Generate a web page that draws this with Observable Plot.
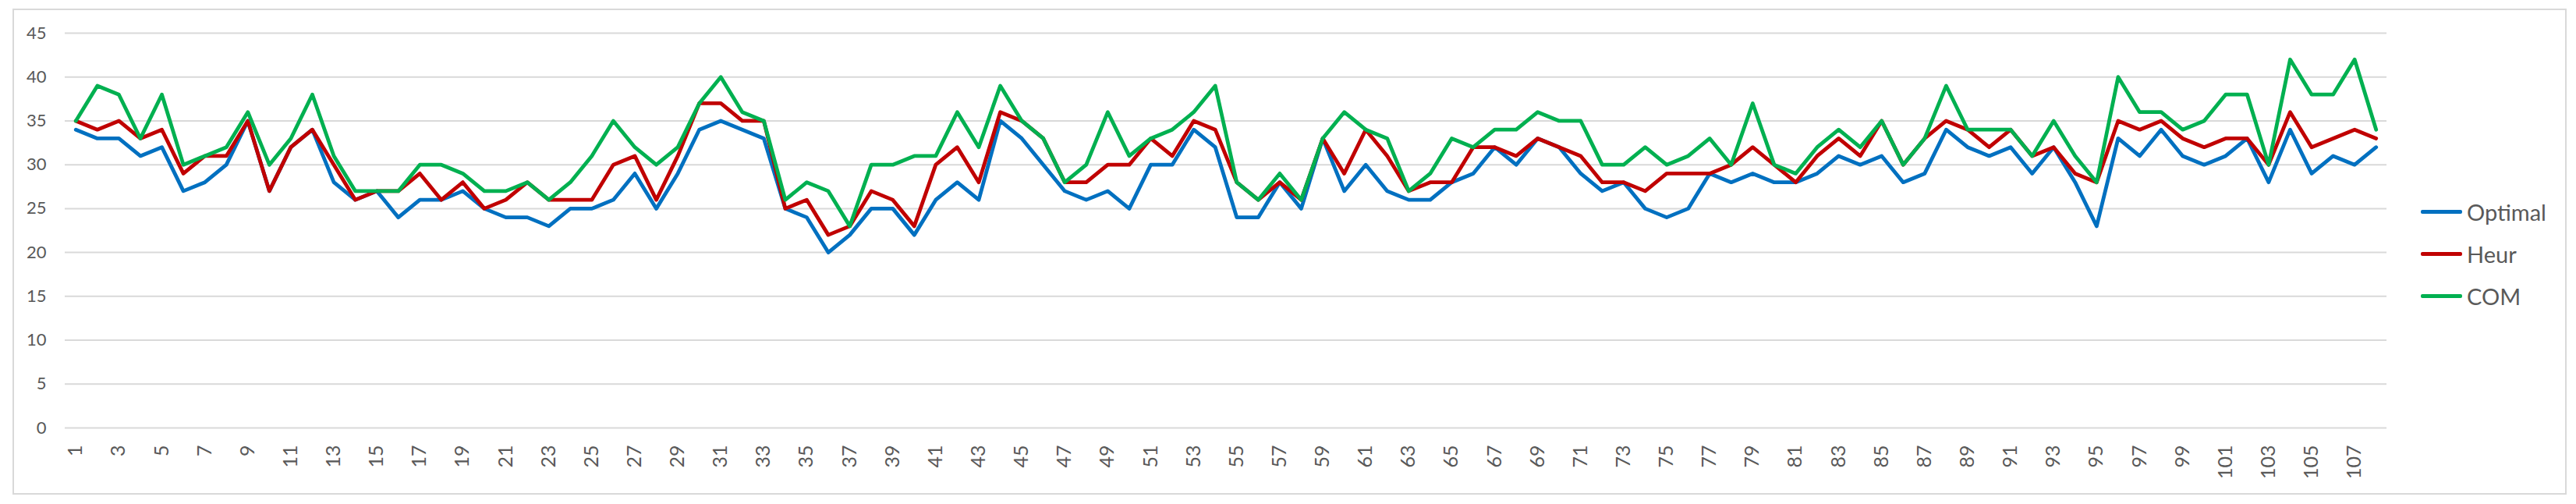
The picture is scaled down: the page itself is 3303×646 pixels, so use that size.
<!DOCTYPE html>
<html>
<head>
<meta charset="utf-8">
<script src="https://cdn.jsdelivr.net/npm/d3@7"></script>
<script src="https://cdn.jsdelivr.net/npm/@observablehq/plot@0.6"></script>
<style>
  html, body { margin: 0; padding: 0; background: #ffffff; }
  #wrap { position: relative; width: 3303px; height: 646px; overflow: hidden; }
  #frame { position: absolute; left: 16px; top: 11px; width: 3271px; height: 619px; border: 2px solid #d9d9d9; pointer-events: none; }
  #legend { position: absolute; left: 3104px; top: 244px; font-family: Lato, "Open Sans", sans-serif; font-size: 29px; color: #595959; }
  .item { display: flex; align-items: center; height: 54px; }
  .swatch { width: 53px; height: 5px; border-radius: 2px; margin-right: 6px; }
</style>
</head>
<body>
<div id="wrap">
  <div id="chart"></div>
  <div id="frame"></div>
  <div id="legend"></div>
</div>
<script>
const seriesNames = ["Optimal", "Heur", "COM"];
const seriesColors = ["#0070C0", "#C00000", "#00B050"];

const optimal = [34,33,33,31,32,27,28,30,35,27,32,34,28,26,27,24,26,26,27,25,24,24,23,25,25,26,29,25,29,34,
  35,34,33,25,24,20,22,25,25,22,26,28,26,35,33,30,27,26,27,25,30,30,34,32,24,24,28,25,33,27,
  30,27,26,26,28,29,32,30,33,32,29,27,28,25,24,25,29,28,29,28,28,29,31,30,31,28,29,34,32,31,
  32,29,32,28,23,33,31,34,31,30,31,33,28,34,29,31,30,32];

const heur = [35,34,35,33,34,29,31,31,35,27,32,34,30,26,27,27,29,26,28,25,26,28,26,26,26,30,31,26,31,37,
  37,35,35,25,26,22,23,27,26,23,30,32,28,36,35,33,28,28,30,30,33,31,35,34,28,26,28,26,33,29,
  34,31,27,28,28,32,32,31,33,32,31,28,28,27,29,29,29,30,32,30,28,31,33,31,35,30,33,35,34,32,
  34,31,32,29,28,35,34,35,33,32,33,33,30,36,32,33,34,33];

const com = [35,39,38,33,38,30,31,32,36,30,33,38,31,27,27,27,30,30,29,27,27,28,26,28,31,35,32,30,32,37,
  40,36,35,26,28,27,23,30,30,31,31,36,32,39,35,33,28,30,36,31,33,34,36,39,28,26,29,26,33,36,
  34,33,27,29,33,32,34,34,36,35,35,30,30,32,30,31,33,30,37,30,29,32,34,32,35,30,33,39,34,34,
  34,31,35,31,28,40,36,36,34,35,38,38,30,42,38,38,42,34];

const categories = d3.range(1, 109);
const xTickLabels = categories.filter(d => d % 2 === 1);
const yTickLabels = d3.range(0, 46, 5);

const valuesBySeries = [optimal, heur, com];
const rows = seriesNames.map((name, s) =>
  categories.map((c, i) => ({ series: name, cat: c, value: valuesBySeries[s][i] }))
);

const chart = Plot.plot({
  width: 3303,
  height: 646,
  marginLeft: 83,
  marginRight: 243,
  marginTop: 42,
  marginBottom: 98,
  style: { fontFamily: "Lato, 'Open Sans', sans-serif", color: "#595959", background: "transparent", overflow: "visible" },
  x: { type: "point", domain: categories, padding: 0.5, label: null },
  y: { domain: [0, 45], label: null },
  marks: [
    Plot.gridY(yTickLabels, { stroke: "#d9d9d9", strokeOpacity: 1, strokeWidth: 2 }),
    Plot.axisY(yTickLabels, { tickSize: 0, tickPadding: 24, fontSize: 22, label: null, fill: "#595959" }),
    Plot.axisX(xTickLabels, { tickSize: 0, tickPadding: 22, tickRotate: -90, fontSize: 25, label: null, fill: "#595959" }),
    ...rows.map((r, s) => Plot.line(r, {
      x: "cat", y: "value",
      stroke: seriesColors[s], strokeWidth: 4.8,
      strokeLinejoin: "round", strokeLinecap: "round"
    }))
  ]
});
document.getElementById("chart").appendChild(chart);

const legend = document.getElementById("legend");
seriesNames.forEach((name, s) => {
  const item = document.createElement("div");
  item.className = "item";
  const sw = document.createElement("div");
  sw.className = "swatch";
  sw.style.background = seriesColors[s];
  const label = document.createElement("span");
  label.textContent = name;
  item.appendChild(sw);
  item.appendChild(label);
  legend.appendChild(item);
});
</script>
</body>
</html>
